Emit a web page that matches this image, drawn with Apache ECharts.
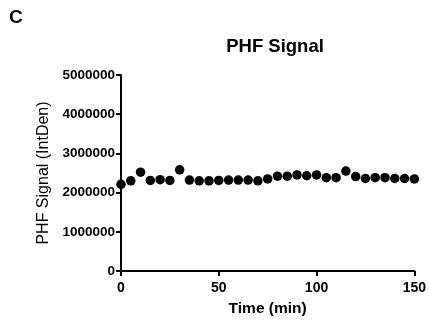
<!DOCTYPE html>
<html><head><meta charset="utf-8">
<script src="https://cdn.jsdelivr.net/npm/echarts@6/dist/echarts.min.js"></script>
<style>html,body{margin:0;padding:0;background:#fff}#c{width:429px;height:323px}</style>
</head><body><div id="c"></div>
<script>
const times = [0,5,10,15,20,25,30,35,40,45,50,55,60,65,70,75,80,85,90,95,100,105,110,115,120,125,130,135,140,145,150];
const signal = [2210000,2300000,2520000,2310000,2330000,2310000,2580000,2320000,2300000,2300000,2310000,2320000,2320000,2320000,2300000,2350000,2420000,2420000,2450000,2430000,2450000,2380000,2380000,2550000,2410000,2360000,2380000,2380000,2360000,2360000,2350000];
const yTicks = [0,1000000,2000000,3000000,4000000,5000000];
const xTicks = [0,50,100,150];
const chart = echarts.init(document.getElementById('c'));
const F = 'Liberation Sans, Arial, sans-serif';
chart.setOption({
  animation:false,
  graphic:[
    {type:'text',left:9,top:8,style:{text:'C',font:'bold 19px '+F,fill:'#000'}}
  ],
  title:{text:'PHF Signal',left:270,top:32,textAlign:'center',textStyle:{fontFamily:F,fontWeight:'bold',fontSize:18.5,color:'#000'}},
  grid:{left:121,right:12,top:75,bottom:52},
  xAxis:{type:'value',min:0,max:150,interval:50,
    name:'Time (min)',nameLocation:'middle',nameGap:30,
    nameTextStyle:{fontFamily:F,fontWeight:'bold',fontSize:15.5,color:'#000'},
    axisLine:{lineStyle:{color:'#000',width:2}},
    axisTick:{length:5,lineStyle:{color:'#000',width:2}},
    axisLabel:{fontFamily:F,fontWeight:'bold',fontSize:14,color:'#000',margin:10,
      formatter:v=>xTicks.includes(v)?String(v):''},
    splitLine:{show:false}},
  yAxis:{type:'value',min:0,max:5000000,interval:1000000,
    name:'PHF Signal (IntDen)',nameLocation:'middle',nameGap:68,
    nameTextStyle:{fontFamily:F,fontSize:16,color:'#000'},
    axisLine:{show:true,lineStyle:{color:'#000',width:2}},
    axisTick:{show:true,length:5,lineStyle:{color:'#000',width:2}},
    axisLabel:{fontFamily:F,fontWeight:'bold',fontSize:13.5,color:'#000',margin:6,
      formatter:v=>yTicks.includes(v)?String(v):''},
    splitLine:{show:false}},
  series:[{type:'scatter',data:times.map((t,i)=>[t,signal[i]]),symbol:'circle',symbolSize:9.5,
    itemStyle:{color:'#000',opacity:1},clip:false}]
});
</script></body></html>
